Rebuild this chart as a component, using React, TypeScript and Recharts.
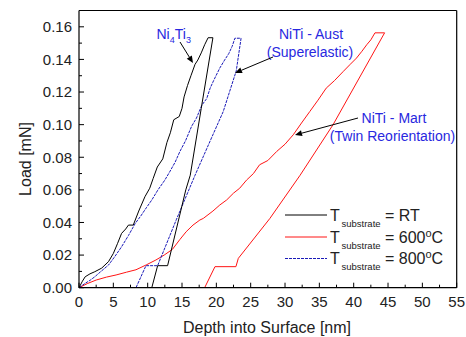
import { Line, LineChart, XAxis, YAxis } from "recharts";

// T_substrate = RT (black)
const rtDepth = [0, 0.5, 0.9, 1.6, 2.3, 3.3, 4.3, 5.0, 5.6, 6.2, 6.8, 7.2, 7.9, 8.7, 9.6, 10.3, 10.8, 11.4, 12.2, 12.8, 13.3, 13.8, 14.6, 15.0, 15.3, 15.8, 16.3, 16.9, 17.3, 17.8, 18.3, 18.8, 19.5, 17.8, 16.2, 15.55, 12.9, 11.45, 10.6];
const rtLoad = [0, 0.004, 0.0067, 0.0085, 0.0098, 0.012, 0.016, 0.021, 0.027, 0.0333, 0.036, 0.0384, 0.0384, 0.047, 0.0558, 0.061, 0.067, 0.074, 0.079, 0.089, 0.095, 0.103, 0.105, 0.11, 0.117, 0.124, 0.13, 0.137, 0.1396, 0.144, 0.149, 0.1533, 0.1533, 0.11, 0.069, 0.06, 0.0135, 0.0135, 0];

// T_substrate = 600°C (red)
const t600Depth = [0, 1.2, 2.5, 4.0, 5.4, 6.9, 8.3, 9.8, 11.2, 12.4, 13.6, 14.7, 15.6, 16.6, 17.6, 18.1, 19.5, 20.5, 21.5, 22.5, 23.4, 24.4, 25.4, 26.3, 27.5, 28.8, 30.0, 31.2, 32.4, 33.6, 34.8, 36.0, 37.2, 38.5, 39.5, 40.4, 41.2, 41.9, 42.5, 43.1, 44.5, 37.0, 32.2, 27.8, 23.2, 22.85, 19.8, 18.3];
const t600Load = [0, 0.0025, 0.0047, 0.0065, 0.0078, 0.0095, 0.011, 0.014, 0.017, 0.02, 0.0235, 0.0296, 0.0343, 0.0384, 0.0415, 0.0425, 0.047, 0.0507, 0.0538, 0.058, 0.061, 0.066, 0.07, 0.0754, 0.078, 0.0836, 0.088, 0.0938, 0.101, 0.108, 0.115, 0.1224, 0.127, 0.1327, 0.137, 0.1408, 0.145, 0.149, 0.152, 0.1563, 0.1563, 0.1, 0.069, 0.0425, 0.018, 0.0129, 0.0129, 0];

// T_substrate = 800°C (blue)
const t800Depth = [0, 0.9, 1.6, 2.3, 3.2, 4.3, 5.2, 6.2, 7.2, 8.2, 9.0, 9.8, 10.6, 11.5, 12.5, 13.2, 14.0, 14.7, 15.5, 16.4, 17.1, 17.9, 18.6, 19.1, 19.6, 20.5, 21.2, 21.8, 22.3, 22.7, 23.6, 22.9, 21.0, 19.1, 16.9, 14.2, 11.45, 9.75, 8.3];
const t800Load = [0, 0.0027, 0.0045, 0.0067, 0.01, 0.0139, 0.019, 0.0251, 0.032, 0.0395, 0.044, 0.049, 0.0538, 0.06, 0.066, 0.071, 0.077, 0.0836, 0.09, 0.099, 0.104, 0.112, 0.116, 0.1224, 0.127, 0.1347, 0.1396, 0.1435, 0.148, 0.153, 0.153, 0.133, 0.108, 0.09, 0.069, 0.042, 0.0135, 0.0135, 0];

const xTicks = [0, 2.5, 5, 7.5, 10, 12.5, 15, 17.5, 20, 22.5, 25, 27.5, 30, 32.5, 35, 37.5, 40, 42.5, 45, 47.5, 50, 52.5, 55];
const xLabels = [0, 5, 10, 15, 20, 25, 30, 35, 40, 45, 50, 55];
const yTicks = [0, 0.01, 0.02, 0.03, 0.04, 0.05, 0.06, 0.07, 0.08, 0.09, 0.1, 0.11, 0.12, 0.13, 0.14, 0.15, 0.16];

const toPoints = (depth: number[], load: number[]) =>
    depth.map((d, i) => ({ depth: d, load: load[i] }));

const rtData = toPoints(rtDepth, rtLoad);
const t600Data = toPoints(t600Depth, t600Load);
const t800Data = toPoints(t800Depth, t800Load);

const font = "'Liberation Sans', Arial, sans-serif";
const blueText = "#2828e0";
const blueLine = "#1a1ab8";
const red = "#ff1414";
const blueDash = "3 1";

const isMajorX = (v: number) => xLabels.includes(v);
const isMajorY = (v: number) => Math.round(v * 100) % 2 === 0;

function BottomTick({ x, y, payload }: any) {
    const v = payload.value;
    const major = isMajorX(v);
    return (
        <g>
            <line x1={x} x2={x} y1={y} y2={y - (major ? 5 : 3)} stroke="#000" />
            {major && (
                <text x={x} y={y + 19.5} textAnchor="middle" fontSize={15} fill="#222" fontFamily={font}>
                    {v}
                </text>
            )}
        </g>
    );
}

function TopTick({ x, y, payload }: any) {
    const major = isMajorX(payload.value);
    return <line x1={x} x2={x} y1={y} y2={y + (major ? 5 : 3)} stroke="#000" />;
}

function LeftTick({ x, y, payload }: any) {
    const v = payload.value;
    const major = isMajorY(v);
    return (
        <g>
            <line x1={x} x2={x + (major ? 5 : 3)} y1={y} y2={y} stroke="#000" />
            {major && (
                <text x={x - 7} y={y + 5.3} textAnchor="end" fontSize={15} fill="#222" fontFamily={font}>
                    {v.toFixed(2)}
                </text>
            )}
        </g>
    );
}

function RightTick({ x, y, payload }: any) {
    const major = isMajorY(payload.value);
    return <line x1={x} x2={x - (major ? 5 : 3)} y1={y} y2={y} stroke="#000" />;
}

function Arrow({ x1, y1, x2, y2 }: { x1: number; y1: number; x2: number; y2: number }) {
    const a = Math.atan2(y2 - y1, x2 - x1);
    const len = 7;
    const w = 3;
    const bx = x2 - len * Math.cos(a);
    const by = y2 - len * Math.sin(a);
    const px = -Math.sin(a) * w;
    const py = Math.cos(a) * w;
    return (
        <g>
            <line x1={x1} y1={y1} x2={bx} y2={by} stroke="#000" strokeWidth={1} />
            <polygon points={`${x2},${y2} ${bx + px},${by + py} ${bx - px},${by - py}`} fill="#000" />
        </g>
    );
}

function LegendRow({ y, color, dash, value }: { y: number; color: string; dash?: string; value: React.ReactNode }) {
    return (
        <g fontFamily={font} fill="#222">
            <line x1={285} x2={327} y1={y} y2={y} stroke={color} strokeWidth={1} strokeDasharray={dash} />
            <text x={330} y={y + 5.7} fontSize={16}>T</text>
            <text x={341.5} y={y + 11.5} fontSize={9.5}>substrate</text>
            <text x={385} y={y + 5.7} fontSize={16}>{value}</text>
        </g>
    );
}

export default function App() {
    return (
        <div style={{ position: "absolute", left: 0, top: 0, width: 466, height: 337, background: "#fff" }}>
            <LineChart width={466} height={337} margin={{ top: 9.5, right: 8.3, bottom: 0, left: 0 }}>
                <XAxis
                    dataKey="depth"
                    type="number"
                    domain={[0, 55]}
                    ticks={xTicks}
                    interval={0}
                    height={49.3}
                    tickSize={0}
                    tickMargin={0}
                    tickLine={false}
                    tick={<BottomTick />}
                    axisLine={{ stroke: "#000", strokeWidth: 1.2 }}
                />
                <XAxis
                    xAxisId="top"
                    orientation="top"
                    type="number"
                    domain={[0, 55]}
                    ticks={xTicks}
                    interval={0}
                    height={1}
                    tickSize={0}
                    tickMargin={0}
                    tickLine={false}
                    tick={<TopTick />}
                    axisLine={{ stroke: "#000", strokeWidth: 1.2 }}
                />
                <YAxis
                    type="number"
                    domain={[0, 0.17]}
                    ticks={yTicks}
                    interval={0}
                    width={79}
                    tickSize={0}
                    tickMargin={0}
                    tickLine={false}
                    tick={<LeftTick />}
                    axisLine={{ stroke: "#000", strokeWidth: 1.2 }}
                />
                <YAxis
                    yAxisId="right"
                    orientation="right"
                    type="number"
                    domain={[0, 0.17]}
                    ticks={yTicks}
                    interval={0}
                    width={1}
                    tickSize={0}
                    tickMargin={0}
                    tickLine={false}
                    tick={<RightTick />}
                    axisLine={{ stroke: "#000", strokeWidth: 1.2 }}
                />
                <Line data={t600Data} dataKey="load" type="linear" stroke={red} strokeWidth={1} dot={false} activeDot={false} isAnimationActive={false} />
                <Line data={t800Data} dataKey="load" type="linear" stroke={blueLine} strokeWidth={1} strokeDasharray={blueDash} dot={false} activeDot={false} isAnimationActive={false} />
                <Line data={rtData} dataKey="load" type="linear" stroke="#000" strokeWidth={1} dot={false} activeDot={false} isAnimationActive={false} />
            </LineChart>

            <svg width={466} height={337} style={{ position: "absolute", left: 0, top: 0, pointerEvents: "none" }}>
                <text x={267} y={332.5} textAnchor="middle" fontSize={16} fill="#222" fontFamily={font}>
                    Depth into Surface [nm]
                </text>
                <text x={30.8} y={159} textAnchor="middle" fontSize={16} fill="#222" fontFamily={font} transform="rotate(-90 30.8 159)">
                    Load [mN]
                </text>

                <g fontFamily={font} fill={blueText}>
                    <text x={156.5} y={38.5} fontSize={14}>
                        Ni<tspan fontSize={9} dy={4}>4</tspan>
                        <tspan fontSize={14} dy={-4}>Ti</tspan>
                        <tspan fontSize={9} dy={4}>3</tspan>
                    </text>
                    <text x={311} y={39} fontSize={14} textAnchor="middle">NiTi - Aust</text>
                    <text x={310} y={57} fontSize={14} textAnchor="middle">(Superelastic)</text>
                    <text x={394} y={123} fontSize={14} textAnchor="middle">NiTi - Mart</text>
                    <text x={392.5} y={141} fontSize={14} textAnchor="middle">(Twin Reorientation)</text>
                </g>
                <Arrow x1={180} y1={42} x2={193} y2={63} />
                <Arrow x1={273} y1={57} x2={235} y2={73} />
                <Arrow x1={358} y1={118} x2={295} y2={135} />

                <LegendRow y={215} color="#000" value="= RT" />
                <LegendRow
                    y={237}
                    color={red}
                    value={<>= 600<tspan fontSize={11} dy={-6}>o</tspan><tspan dy={6}>C</tspan></>}
                />
                <LegendRow
                    y={258.5}
                    color={blueLine}
                    dash={blueDash}
                    value={<>= 800<tspan fontSize={11} dy={-6}>o</tspan><tspan dy={6}>C</tspan></>}
                />
            </svg>
        </div>
    );
}
